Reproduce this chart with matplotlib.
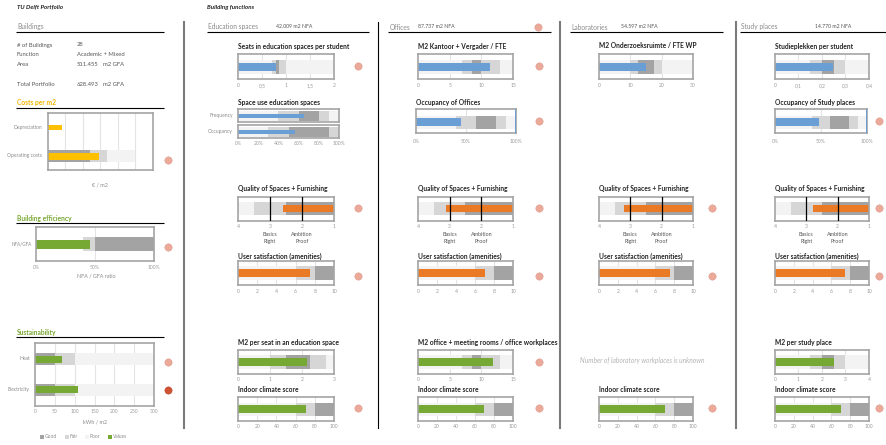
import matplotlib
matplotlib.use("Agg")
import matplotlib.pyplot as plt
from matplotlib.patches import Rectangle

plt.rcParams['font.family'] = ['Lato', 'DejaVu Sans']

# ---------------------------------------------------------------- data
portfolio_labels = ["# of Buildings", "Function", "Area", "Total Portfolio"]
portfolio_values = ["28", "Academic + Mixed", "511.455", "628.493"]
portfolio_units = ["", "", "m2 GFA", "m2 GFA"]

cost_rows = ["Depreciation", "Operating costs"]
cost_values = [8, 29]
cost_bands = [None, [(0, 50), (0, 34), (0, 24)]]          # poor, fair, good

efficiency_value = 46
efficiency_bands = [None, (40, 50), (50, 100)]

energy_rows = ["Heat", "Electricity"]
energy_values = [67, 108]
energy_bands = [(0, 300), (0, 100), (0, 50)]
energy_status = ["warn", "bad"]

columns = ["Education spaces", "Offices", "Laboratories", "Study places"]
column_nfa = ["42.009", "87.737", "54.597", "14.770"]

ratio_titles = ["Seats in education spaces per student", "M2 Kantoor + Vergader / FTE",
                "M2 Onderzoeksruimte / FTE WP", "Studieplekken per student"]
ratio_limits = [2, 15, 30, 0.4]
ratio_ticks = [[0, 0.5, 1, 1.5, 2], [0, 5, 10, 15], [0, 10, 20, 30], [0, 0.1, 0.2, 0.3, 0.4]]
ratio_ticklabels = [["0", "0,5", "1", "1,5", "2"], ["0", "5", "10", "15"],
                    ["0", "10", "20", "30"], ["0", "0,1", "0,2", "0,3", "0,4"]]
ratio_values = [0.8, 11.3, 15, 0.245]
ratio_bands = [[(0, 2), (0.7, 1.0), (0.8, 0.85)], [(0, 15), (7, 13), (8.5, 10)],
               [(0, 30), (10, 20), (12.5, 17.5)], [(0, 0.4), (0.15, 0.3), (0.2, 0.25)]]
ratio_flag = [True, True, False, False]

space_use_rows = ["Frequency", "Occupancy"]
space_use_values = [65, 56]
space_use_bands = [[(0, 100), (40, 90), (60, 80)], [(0, 100), (30, 100), (50, 90)]]

occupancy_titles = ["Occupancy of Offices", "Occupancy of Study places"]
occupancy_values = [45, 48]
occupancy_bands = [(0, 100), (40, 90), (60, 80)]
occupancy_target = 100

quality_scores = [2.6, 3.1, 3.2, 2.8]
quality_bands = [(1, 4), (1, 3.5), (1, 2.5)]
quality_markers = [3, 2]
quality_marker_labels = ["Basics\nRight", "Ambition\nProof"]

satisfaction_scores = [7.5, 7.1, 7.5, 7.5]
satisfaction_bands = [(0, 6), (6, 8), (8, 10)]

area_titles = ["M2 per seat in an education space", "M2 office + meeting rooms / office workplaces",
               None, "M2 per study place"]
area_limits = [3, 15, None, 4]
area_ticks = [[0, 1, 2, 3], [0, 5, 10, 15], None, [0, 1, 2, 3, 4]]
area_values = [2.15, 11.8, None, 2.5]
area_bands = [[(0, 3), (1.0, 2.75), (1.5, 2.25)], [(0, 15), (7, 13), (8.5, 10)],
              None, [(0, 4), (1.5, 3), (2, 2.5)]]
area_flag = [False, True, False, False]
lab_note = "Number of laboratory workplaces is unknown"

climate_scores = [71, 69, 70, 70]
climate_bands = [(0, 60), (60, 80), (80, 100)]

# ---------------------------------------------------------------- style
BLUE, ORANGE, GREEN, YELLOW = '#6a9fd6', '#ea7a25', '#76a933', '#ffc000'
GOOD, FAIR, POOR = '#a3a3a3', '#d6d6d6', '#f3f3f3'
EDGE, GRID, TICK = '#a4a4a4', '#e4e4e4', '#9a9a9a'
WARN, BAD = '#eba99a', '#cf5233'
TITLE_FS, BODY_FS, TICK_FS, HEAD_FS = 4.75, 4.2, 3.6, 4.8

W, H = 887, 445
fig = plt.figure(figsize=(W / 100, H / 100), dpi=100)
fig.patch.set_facecolor('white')

# overlay in pixel units for free text, rules and status dots
ov = fig.add_axes([0, 0, 1, 1])
ov.set_xlim(0, W)
ov.set_ylim(H, 0)
ov.axis('off')


def txt(x, y, s, size=BODY_FS, color='#333333', weight='normal', style='normal', ha='left'):
    ov.text(x, y, s, fontsize=size, color=color, fontweight=weight, fontstyle=style,
            ha=ha, va='center')


def rule(x0, x1, y, color='black', lw=0.8):
    ov.plot([x0, x1], [y, y], color=color, lw=lw, solid_capstyle='butt')


def dot(x, y, kind='warn'):
    ov.scatter([x], [y], s=28, color=WARN if kind == 'warn' else BAD,
               edgecolor='#d99080' if kind == 'warn' else '#b84228', lw=0.3, zorder=5)


def panel(x0, y0, x1, y1, lim, ticks=None, labels=None, grid_at=(), pad=3.0):
    ax = fig.add_axes([x0 / W, 1 - y1 / H, (x1 - x0) / W, (y1 - y0) / H])
    ax.set_xlim(*lim)
    ax.set_ylim(y1, y0)
    for g in grid_at:
        ax.axvline(g, color=GRID, lw=0.8, zorder=0)
    ax.set_yticks([])
    if ticks is None:
        ax.set_xticks([])
    else:
        ax.set_xticks(ticks)
        ax.set_xticklabels(labels if labels else [f"{t:g}" for t in ticks],
                           fontsize=TICK_FS, color=TICK)
    ax.tick_params(axis='x', length=0, pad=pad)
    for s in ax.spines.values():
        s.set_color(EDGE)
        s.set_linewidth(1.2)
    return ax


def row(ax, yc, value, color, bands=None, base=None, band_h=13, bar_h=7):
    if bands:
        for b, c in zip(bands, [POOR, FAIR, GOOD]):
            if b is None:
                continue
            ax.barh(yc, b[1] - b[0], left=b[0], height=band_h, color=c, lw=0, zorder=1)
    if base is None:
        base = ax.get_xlim()[0]
    ax.barh(yc, value - base, left=base, height=bar_h, color=color, lw=0, zorder=2)


# ---------------------------------------------------------------- left panel
txt(17, 7, "TU Delft Portfolio", size=4.4, weight='bold', style='italic', color='#222222')
txt(17, 26, "Buildings", size=HEAD_FS, color='#8a8a8a')
rule(16, 164, 32)
for lab, val, unit, y in zip(portfolio_labels, portfolio_values, portfolio_units, [45, 55, 64, 84]):
    txt(17, y, lab, color='#555555')
    txt(77, y, val, color='#555555')
    if unit:
        txt(103, y, unit, color='#555555')

txt(17, 102, "Costs per m2", size=TITLE_FS, weight='bold', color='#f2b400')
rule(16, 164, 108)
ax = panel(48, 113, 153, 170, (0, 60), grid_at=range(10, 60, 10))
for lab, val, bands, yc in zip(cost_rows, cost_values, cost_bands, [127.5, 156]):
    if bands:
        row(ax, yc, val, YELLOW, bands, band_h=12, bar_h=7)
    else:
        row(ax, yc, val, YELLOW, None, bar_h=5)
    txt(42, yc, lab, size=TICK_FS, color='#8a8a8a', ha='right')
txt(100, 185, "€ / m2", size=TICK_FS + 0.3, color='#8a8a8a', ha='center')
dot(168, 160)

txt(17, 218, "Building efficiency", size=TITLE_FS, weight='bold', color='#78a832')
rule(16, 164, 223)
ax = panel(36, 227, 154, 261, (0, 100), ticks=[0, 50, 100], labels=["0%", "50%", "100%"],
           grid_at=[50], pad=3.0)
row(ax, 244, efficiency_value, GREEN, efficiency_bands, band_h=14, bar_h=9)
txt(32, 244, "NFA/GFA", size=TICK_FS - 0.3, color='#8a8a8a', ha='right')
txt(96, 276, "NFA / GFA ratio", size=TICK_FS + 0.3, color='#8a8a8a', ha='center')
dot(168, 247)

txt(17, 333, "Sustainability", size=TITLE_FS, weight='bold', color='#78a832')
rule(16, 164, 337)
ax = panel(35, 343, 154, 406, (0, 300), ticks=list(range(0, 301, 50)),
           grid_at=range(50, 300, 50), pad=2.2)
for lab, val, yc, st, dy in zip(energy_rows, energy_values, [359, 389.5], energy_status, [362, 390]):
    row(ax, yc, val, GREEN, energy_bands, band_h=12, bar_h=7)
    txt(30, yc, lab, size=TICK_FS, color='#8a8a8a', ha='right')
    dot(168, dy, st)
txt(95, 422, "kWh / m2", size=TICK_FS + 0.3, color='#8a8a8a', ha='center')
for x, c, lab in zip([42, 67, 87, 110], [GOOD, FAIR, POOR, GREEN], ["Good", "Fair", "Poor", "Values"]):
    ov.add_patch(Rectangle((x - 2, 435), 4, 4, color=c, lw=0))
    txt(x + 3, 437, lab, size=TICK_FS - 0.1, color='#8a8a8a')

# ---------------------------------------------------------------- separators
ov.plot([184, 184], [22, 428], color='#7a7a7a', lw=1.5)
ov.plot([378, 378], [22, 428], color='black', lw=0.8)
ov.plot([560, 560], [22, 428], color='#7a7a7a', lw=1.5)
ov.plot([736, 736], [22, 428], color='#7a7a7a', lw=1.5)

txt(207, 7, "Building functions", size=4.4, weight='bold', style='italic', color='#222222')

# ---------------------------------------------------------------- building function columns
hdr_x = [208, 390, 571, 741]
nfa_x = [276, 418, 621, 815]
hdr_line = [(207, 369), (388, 551), (570, 723), (740, 887)]
col_ax = [(238, 334), (418, 513), (599, 693), (775, 869)]
col_dot = [358, 539, 712, 879]

for i, name in enumerate(columns):
    x0, x1 = col_ax[i]
    txt(hdr_x[i], 27, name, size=HEAD_FS, color='#8a8a8a')
    txt(nfa_x[i], 27, f"{column_nfa[i]} m2 NFA", size=3.7, color='#555555')
    rule(*hdr_line[i], 32)

    # ratio bullet
    txt(x0, 46, ratio_titles[i], size=TITLE_FS, weight='bold', color='#222222')
    ax = panel(x0, 54, x1, 79, (0, ratio_limits[i]), ticks=ratio_ticks[i],
               labels=ratio_ticklabels[i], grid_at=ratio_ticks[i][1:-1])
    row(ax, 66.5, ratio_values[i], BLUE, ratio_bands[i], band_h=14, bar_h=8)
    if ratio_flag[i]:
        dot(col_dot[i], 66)

    # quality of spaces
    txt(x0, 189, "Quality of Spaces + Furnishing", size=TITLE_FS, weight='bold', color='#222222')
    ax = panel(x0, 197, x1, 221, (4, 1), ticks=[4, 3, 2, 1], pad=1.8)
    row(ax, 208.5, quality_scores[i], ORANGE, quality_bands, base=1, band_h=13, bar_h=7)
    for m, lab in zip(quality_markers, quality_marker_labels):
        ax.axvline(m, color='black', lw=0.9, zorder=3)
        xm = x0 + (4 - m) / 3 * (x1 - x0)
        ov.text(xm, 238, lab, fontsize=3.9, color='#555555', ha='center', va='center',
                linespacing=1.5)
    dot(col_dot[i], 208)

    # user satisfaction
    txt(x0, 256, "User satisfaction (amenities)", size=TITLE_FS, weight='bold', color='#222222')
    ax = panel(x0, 261, x1, 285, (0, 10), ticks=list(range(0, 11, 2)), grid_at=range(2, 10, 2))
    row(ax, 273, satisfaction_scores[i], ORANGE, satisfaction_bands, band_h=14, bar_h=8)
    dot(col_dot[i], 276)

    # floor area per workplace
    if area_titles[i] is not None:
        txt(x0, 342, area_titles[i], size=TITLE_FS, weight='bold', color='#222222')
        ax = panel(x0, 350, x1, 374, (0, area_limits[i]), ticks=area_ticks[i],
                   grid_at=area_ticks[i][1:-1], pad=2.4)
        row(ax, 362, area_values[i], GREEN, area_bands[i], band_h=14, bar_h=8)
        if area_flag[i]:
            dot(col_dot[i], 362)
    else:
        txt((x0 + x1) / 2 - 4, 361, lab_note, size=4.8, color='#b4b4b4', style='italic', ha='center')

    # indoor climate
    txt(x0, 390, "Indoor climate score", size=TITLE_FS, weight='bold', color='#222222')
    ax = panel(x0, 397, x1, 421, (0, 100), ticks=list(range(0, 101, 20)),
               grid_at=range(20, 100, 20), pad=2.4)
    row(ax, 409, climate_scores[i], GREEN, climate_bands, band_h=13, bar_h=8)
    dot(col_dot[i], 408)

# space use of education spaces
txt(238, 103, "Space use education spaces", size=TITLE_FS, weight='bold', color='#222222')
for k, (lab, val, bands) in enumerate(zip(space_use_rows, space_use_values, space_use_bands)):
    y0, y1 = [(109, 122), (125, 138)][k]
    last = k == len(space_use_rows) - 1
    ax = panel(238, y0, 339, y1, (0, 100),
               ticks=list(range(0, 101, 20)) if last else None,
               labels=[f"{t}%" for t in range(0, 101, 20)] if last else None, pad=2.0)
    yc = (y0 + y1) / 2
    row(ax, yc, val, BLUE, bands, band_h=10, bar_h=4)
    txt(233, yc, lab, size=TICK_FS, color='#8a8a8a', ha='right')

# occupancy of offices and study places
for (x0, x1), title, val, dx in zip([(416, 516), (775, 867)], occupancy_titles,
                                    occupancy_values, [539, 879]):
    txt(x0, 103, title, size=TITLE_FS, weight='bold', color='#222222')
    ax = panel(x0, 109, x1, 133, (0, 100), ticks=[0, 50, 100], labels=["0%", "50%", "100%"],
               grid_at=[50], pad=4.0)
    row(ax, 122, val, BLUE, occupancy_bands, band_h=13, bar_h=8)
    ax.axvline(occupancy_target, color=BLUE, lw=1.4, zorder=3)
    dot(dx, 121)

dot(538, 27)

fig.savefig("out.png", dpi=100, facecolor='white')
